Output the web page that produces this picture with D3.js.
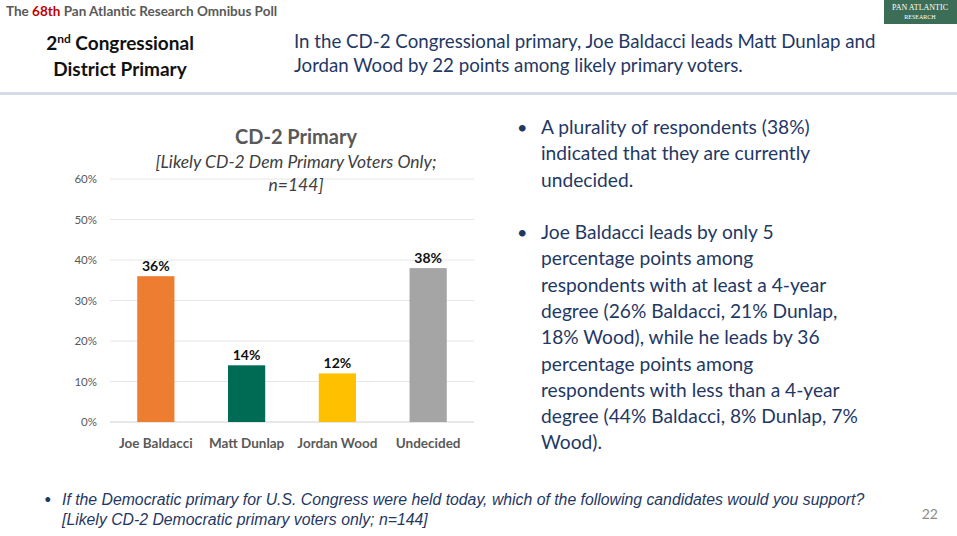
<!DOCTYPE html>
<html><head><meta charset="utf-8">
<script src="https://cdn.jsdelivr.net/npm/d3@7"></script>
<style>
body{margin:0;background:#fff;}
svg{display:block;font-family:Lato,"Open Sans",sans-serif;}
</style></head><body>
<svg id="slide" width="957" height="536"></svg>
<script>
const candidates = ["Joe Baldacci", "Matt Dunlap", "Jordan Wood", "Undecided"];
const shares = [36, 14, 12, 38];
const barColors = ["#ed7d31", "#006b54", "#ffc000", "#a5a5a5"];
const yTicks = [0, 10, 20, 30, 40, 50, 60];

const svg = d3.select("#slide");
const navy = "#1f3864";

// header
const hd = svg.append("text").attr("x", 6).attr("y", 16).attr("font-size", 13.5).attr("font-weight", "bold").attr("fill", "#595959");
hd.append("tspan").text("The ");
hd.append("tspan").attr("fill", "#c00000").text("68th");
hd.append("tspan").text(" Pan Atlantic Research Omnibus Poll");

svg.append("rect").attr("x", 884).attr("y", 0).attr("width", 73).attr("height", 24).attr("fill", "#3c6e57");
svg.append("text").attr("x", 920).attr("y", 10).attr("text-anchor", "middle").attr("fill", "#fff")
  .attr("font-family", "Liberation Serif").attr("font-size", 8).text("PAN ATLANTIC");
svg.append("text").attr("x", 920).attr("y", 19).attr("text-anchor", "middle").attr("fill", "#fff")
  .attr("font-family", "Liberation Serif").attr("font-size", 6).text("RESEARCH");

const t1 = svg.append("text").attr("x", 120).attr("y", 50).attr("text-anchor", "middle").attr("font-size", 19).attr("font-weight", "bold").attr("fill", "#111");
t1.append("tspan").text("2");
t1.append("tspan").attr("font-size", 12).attr("dy", -7).text("nd");
t1.append("tspan").attr("dy", 7).text(" Congressional");
svg.append("text").attr("x", 120).attr("y", 76).attr("text-anchor", "middle").attr("font-size", 19).attr("font-weight", "bold").attr("fill", "#111").text("District Primary");

svg.append("text").attr("x", 294).attr("y", 48).attr("font-size", 18.7).attr("fill", navy)
  .text("In the CD-2 Congressional primary, Joe Baldacci leads Matt Dunlap and");
svg.append("text").attr("x", 294).attr("y", 72).attr("font-size", 18.7).attr("fill", navy)
  .text("Jordan Wood by 22 points among likely primary voters.");
svg.append("rect").attr("x", 0).attr("y", 92).attr("width", 957).attr("height", 3).attr("fill", "#d6dce5");

// chart
const x = d3.scaleBand().domain(candidates).range([110, 474]).paddingInner(0.59).paddingOuter(0.3);
const y = d3.scaleLinear().domain([0, 60]).range([422, 179]);

svg.append("g").selectAll("line").data(yTicks).join("line")
  .attr("x1", 110).attr("x2", 474).attr("y1", d => y(d)).attr("y2", d => y(d))
  .attr("stroke", d => d === 0 ? "#d0d0d0" : "#e6e6e6").attr("stroke-width", 1);
svg.append("g").selectAll("text").data(yTicks).join("text")
  .attr("x", 97).attr("y", d => y(d) + 4).attr("text-anchor", "end")
  .attr("font-size", 11.5).attr("fill", "#595959").text(d => d + "%");

svg.append("text").attr("x", 296).attr("y", 144).attr("text-anchor", "middle").attr("font-size", 20).attr("font-weight", "bold").attr("fill", "#595959").text("CD-2 Primary");
svg.append("text").attr("x", 296).attr("y", 168).attr("text-anchor", "middle").attr("font-size", 17.5).attr("font-style", "italic").attr("fill", "#404040").text("[Likely CD-2 Dem Primary Voters Only;");
svg.append("text").attr("x", 296).attr("y", 191).attr("text-anchor", "middle").attr("font-size", 17.5).attr("font-style", "italic").attr("fill", "#404040").text("n=144]");

svg.append("g").selectAll("rect").data(candidates).join("rect")
  .attr("x", d => x(d)).attr("width", x.bandwidth())
  .attr("y", (d, i) => y(shares[i])).attr("height", (d, i) => y(0) - y(shares[i]))
  .attr("fill", (d, i) => barColors[i]);
svg.append("g").selectAll("text").data(candidates).join("text")
  .attr("x", d => x(d) + x.bandwidth() / 2).attr("y", (d, i) => y(shares[i]) - 5)
  .attr("text-anchor", "middle").attr("font-size", 14).attr("font-weight", "bold").attr("fill", "#111")
  .text((d, i) => shares[i] + "%");
svg.append("g").selectAll("text").data(candidates).join("text")
  .attr("x", d => x(d) + x.bandwidth() / 2).attr("y", 448)
  .attr("text-anchor", "middle").attr("font-size", 13.5).attr("font-weight", "bold").attr("fill", "#595959")
  .text(d => d);

// right bullets
const bullets = [
  ["A plurality of respondents (38%)", "indicated that they are currently", "undecided."],
  ["Joe Baldacci leads by only 5", "percentage points among", "respondents with at least a 4-year", "degree (26% Baldacci, 21% Dunlap,", "18% Wood), while he leads by 36", "percentage points among", "respondents with less than a 4-year", "degree (44% Baldacci, 8% Dunlap, 7%", "Wood)."]
];
const startY = [134, 239];
bullets.forEach((lines, b) => {
  svg.append("text").attr("x", 517).attr("y", startY[b]).attr("font-size", 18).attr("fill", navy).text("•");
  lines.forEach((l, i) => {
    svg.append("text").attr("x", 541).attr("y", startY[b] + i * 26.3).attr("font-size", 19.2).attr("fill", navy).text(l);
  });
});

// footer
svg.append("text").attr("x", 44).attr("y", 504).attr("font-size", 13).attr("fill", navy).text("•");
svg.append("text").attr("x", 62).attr("y", 505).attr("font-family", "Liberation Sans").attr("font-style", "italic").attr("font-size", 15.8).attr("fill", navy)
  .text("If the Democratic primary for U.S. Congress were held today, which of the following candidates would you support?");
svg.append("text").attr("x", 62).attr("y", 525).attr("font-family", "Liberation Sans").attr("font-style", "italic").attr("font-size", 15.8).attr("fill", navy)
  .text("[Likely CD-2 Democratic primary voters only;  n=144]");
svg.append("text").attr("x", 938).attr("y", 519).attr("text-anchor", "end").attr("font-size", 14).attr("fill", "#8c8c8c").text("22");
</script>
</body></html>
